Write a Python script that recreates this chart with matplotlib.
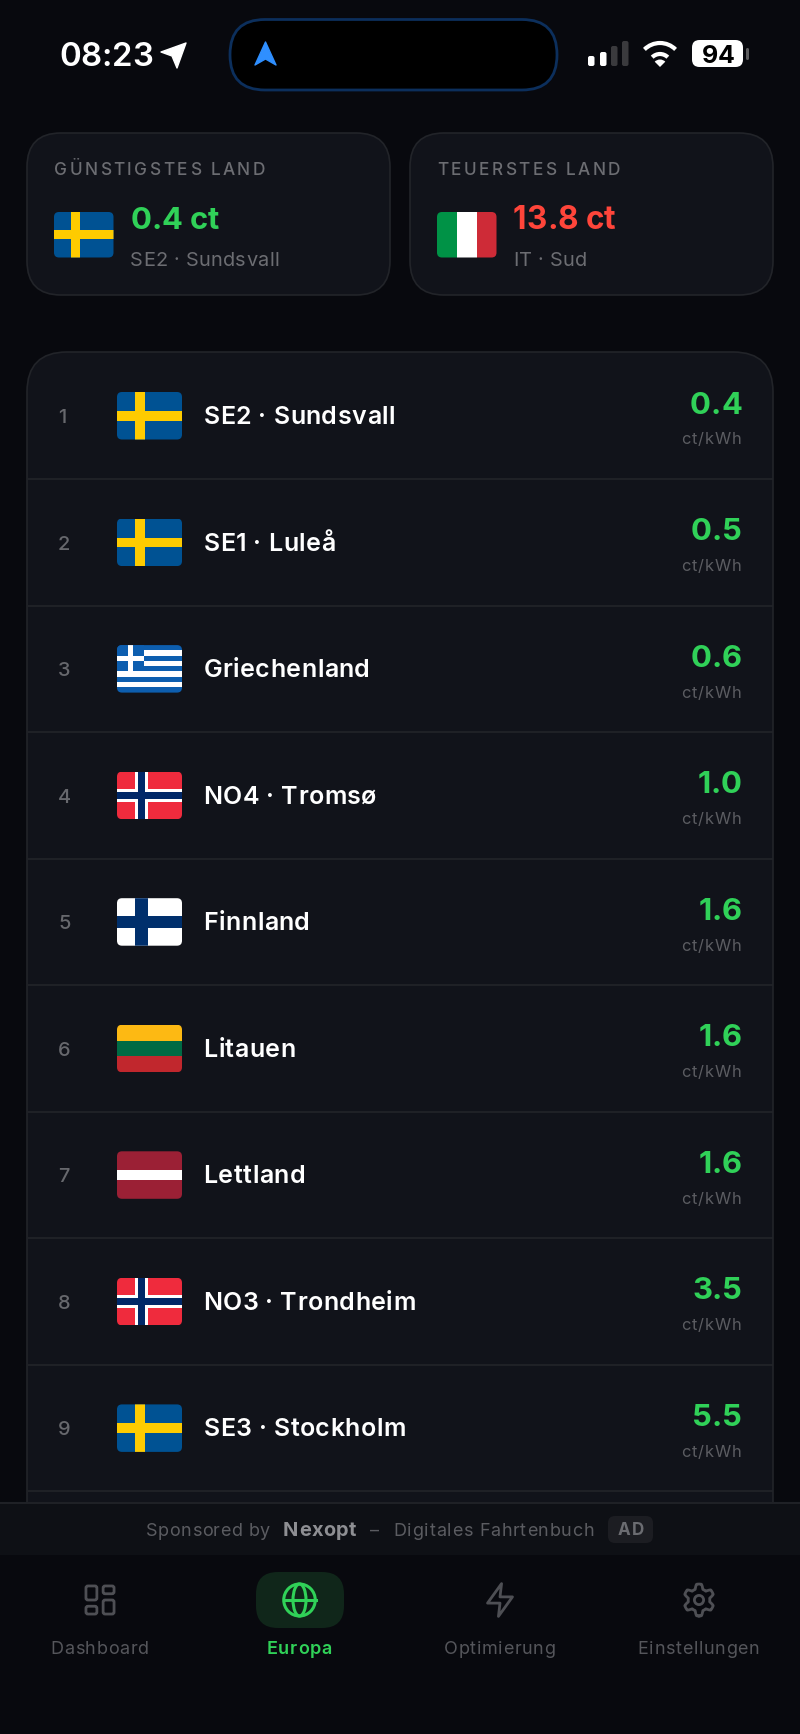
import numpy as np
import matplotlib
matplotlib.use("Agg")
import matplotlib.pyplot as plt
from matplotlib.patches import FancyBboxPatch, Rectangle, Polygon, Circle, Ellipse, Arc, Wedge
from matplotlib.text import Text
from matplotlib.transforms import IdentityTransform

# data
ranks = [1, 2, 3, 4, 5, 6, 7, 8, 9]
regions = ["SE2 · Sundsvall", "SE1 · Luleå", "Griechenland", "NO4 · Tromsø", "Finnland",
           "Litauen", "Lettland", "NO3 · Trondheim", "SE3 · Stockholm"]
prices = [0.4, 0.5, 0.6, 1.0, 1.6, 1.6, 1.6, 3.5, 5.5]
flags = ["se", "se", "gr", "no", "fi", "lt", "lv", "no", "se"]
unit = "ct/kWh"
nav_labels = ["Dashboard", "Europa", "Optimierung", "Einstellungen"]

BG = "#08090e"
CARD = "#11131a"
LINE = "#222429"
GREEN = "#30d158"
RED = "#ff453a"
GREY = "#6c6d72"
DIM = "#5b5c61"

plt.rcParams["font.family"] = ["Inter", "DejaVu Sans"]

fig = plt.figure(figsize=(8, 17.34), dpi=100, facecolor=BG)
ax = fig.add_axes([0, 0, 1, 1])
ax.set_xlim(0, 800)
ax.set_ylim(1734, 0)
ax.axis("off")


class TrackedText(Text):
    # matplotlib has no letter-spacing, so the glyphs are laid out one by one when drawing
    def __init__(self, *args, tracking=0, **kwargs):
        super().__init__(*args, **kwargs)
        self.tracking = tracking

    def draw(self, renderer):
        s = self.get_text()
        fp = self.get_fontproperties()
        px, py = self.get_transform().transform(self.get_position())

        def width(part):
            return renderer.get_text_width_height_descent(part, fp, False)[0]

        total = width(s) + self.tracking * (len(s) - 1)
        start = {"left": px, "center": px - total / 2, "right": px - total}[self.get_ha()]
        for i, ch in enumerate(s):
            x = start + width(s[:i]) + i * self.tracking if i else start
            t = Text(x, py, ch, color=self.get_color(), fontproperties=fp, va="baseline", transform=IdentityTransform())
            t.set_figure(self.get_figure())
            t.draw(renderer)


def txt(x, y, s, px, color, weight="normal", ha="left", z=5, track=0):
    t = TrackedText(x, y, s, tracking=track, fontsize=px * 0.72, color=color, fontweight=weight,
                    ha=ha, va="baseline", zorder=z, transform=ax.transData)
    ax.add_artist(t)
    return t


def rbox(x0, y0, x1, y1, r, fc, ec="none", lw=0, z=1):
    p = FancyBboxPatch((x0 + r, y0 + r), x1 - x0 - 2 * r, y1 - y0 - 2 * r,
                       boxstyle="round,pad=%f,rounding_size=%f" % (r, r),
                       fc=fc, ec=ec, lw=lw, zorder=z)
    ax.add_patch(p)
    return p


def flag(x, y, w, h, kind):
    clip = rbox(x, y, x + w, y + h, 5, "none", z=2)
    items = []

    def r(fx0, fy0, fx1, fy1, c):
        items.append(Rectangle((x + fx0 * w, y + fy0 * h), (fx1 - fx0) * w, (fy1 - fy0) * h, fc=c, ec="none", zorder=3))

    if kind == "se":
        r(0, 0, 1, 1, "#005293")
        r(0.28, 0, 0.43, 1, "#fecb00")
        r(0, 0.40, 1, 0.60, "#fecb00")
    elif kind == "it":
        r(0, 0, 1 / 3, 1, "#009246")
        r(1 / 3, 0, 2 / 3, 1, "#ffffff")
        r(2 / 3, 0, 1, 1, "#ce2b37")
    elif kind == "gr":
        r(0, 0, 1, 1, "#0d5eaf")
        for i in range(1, 9, 2):
            r(0, i / 9, 1, (i + 1) / 9, "#ffffff")
        r(0, 0, 0.41, 5 / 9, "#0d5eaf")
        r(0.165, 0, 0.245, 5 / 9, "#ffffff")
        r(0, 2 / 9, 0.41, 3 / 9, "#ffffff")
    elif kind == "no":
        r(0, 0, 1, 1, "#ef2b3d")
        r(0.28, 0, 0.47, 1, "#ffffff")
        r(0, 0.36, 1, 0.64, "#ffffff")
        r(0.325, 0, 0.425, 1, "#002868")
        r(0, 0.43, 1, 0.57, "#002868")
    elif kind == "fi":
        r(0, 0, 1, 1, "#ffffff")
        r(0.27, 0, 0.47, 1, "#002f6c")
        r(0, 0.37, 1, 0.63, "#002f6c")
    elif kind == "lt":
        r(0, 0, 1, 1 / 3, "#fdb913")
        r(0, 1 / 3, 1, 2 / 3, "#006a44")
        r(0, 2 / 3, 1, 1, "#c1272d")
    elif kind == "lv":
        r(0, 0, 1, 1, "#9b2035")
        r(0, 0.40, 1, 0.60, "#ffffff")
    for it in items:
        ax.add_patch(it)
        it.set_clip_path(clip)


# ---- summary cards
rbox(27, 133, 390, 295, 34, CARD, LINE, 1.2)
rbox(410, 133, 773, 295, 34, CARD, LINE, 1.2)
txt(54, 175, "GÜNSTIGSTES LAND", 17.2, GREY, "medium", track=2.45)
txt(437, 175, "TEUERSTES LAND", 17.2, GREY, "medium", track=2.45)
flag(54, 212, 59.5, 45.5, "se")
flag(437, 212, 59.5, 45.5, "it")
txt(130.5, 229, "%.1f ct" % prices[0], 31, GREEN, "bold")
txt(513, 229, "13.8 ct", 31.5, RED, "bold")
txt(130, 266.5, regions[0], 20, GREY, track=0.3)
txt(513, 266.5, "IT · Sud", 20, GREY, track=0.3)

# ---- ranking list
rbox(27, 352, 773, 1600, 40, CARD, LINE, 1.2, z=1)
row_h = 126.55
for i, (n, name, val, fl) in enumerate(zip(ranks, regions, prices, flags)):
    c = 415.5 + i * row_h
    txt(58, c + 7.5, str(n), 20, "#67686d", "medium")
    flag(117, c - 23.5, 65, 47.5, fl)
    txt(203.5, c + 8.5, name, 25, "#ffffff", "semibold", track=0.43)
    txt(742, c - 2, "%.1f" % val, 31, GREEN, "bold", ha="right")
    txt(741.5, c + 29, unit, 16.5, DIM, ha="right", track=0.85)
    y = 352 + 127 + i * row_h
    ax.plot([27.5, 772.5], [y, y], color=LINE, lw=1.2, zorder=2, solid_capstyle="butt")

# ---- sponsor strip + nav
ax.add_patch(Rectangle((0, 1502), 800, 53, fc="#0e1015", ec="none", zorder=6))
ax.plot([0, 800], [1502.5, 1502.5], color="#1f2126", lw=1.5, zorder=7)
ax.add_patch(Rectangle((0, 1555), 800, 179, fc=BG, ec="none", zorder=6))
txt(146, 1536, "Sponsored by", 18, DIM, z=8, track=0.5)
txt(283, 1536, "Nexopt", 20, "#8e8f93", "bold", z=8, track=0.5)
txt(370, 1536, "–", 18, DIM, z=8)
txt(393.5, 1536, "Digitales Fahrtenbuch", 18, DIM, z=8, track=0.72)
rbox(608, 1516, 653, 1543, 7, "#1c1d22", z=7)
txt(630.5, 1535, "AD", 17, "#6b6c71", "bold", ha="center", z=8, track=1.5)

nav_x = [100, 299.5, 500, 699]
rbox(256, 1572, 344, 1628, 22, "#10261a", z=7)
for x, lab in zip(nav_x, nav_labels):
    active = lab == "Europa"
    txt(x - 0.5, 1654, lab, 18, GREEN if active else "#55565b", "semibold" if active else "normal", ha="center", z=8, track=0.65)

# nav icons (24 unit icon grid, scaled)
ICON = "#4e4f54"
s = 1.56
y0 = 1600


def to_px(cx, pts):
    return [(cx + (a - 12) * s, y0 + (b - 12) * s) for a, b in pts]


cx = nav_x[0]
for a, b, w, h in [(3, 3, 7, 9), (14, 3, 7, 5), (14, 12, 7, 9), (3, 16, 7, 5)]:
    rbox(cx + (a - 12) * s, y0 + (b - 12) * s, cx + (a + w - 12) * s, y0 + (b + h - 12) * s, 2, "none", ICON, 2.0, z=8)

cx = nav_x[1]
ax.add_patch(Ellipse((cx, y0), 31.5, 32, fc="none", ec=GREEN, lw=2.2, zorder=8))
ax.add_patch(Ellipse((cx, y0), 13, 32, fc="none", ec=GREEN, lw=2.2, zorder=8))
ax.plot([cx - 16, cx + 16], [y0, y0], color=GREEN, lw=2.2, zorder=8)

cx = nav_x[2]
zap = [(13, 1.5), (4, 14), (12, 14), (11, 22.5), (20, 10), (12, 10)]
ax.add_patch(Polygon(to_px(cx, zap), closed=True, fc="none", ec=ICON, lw=2.0, joinstyle="round", zorder=8))

cx = nav_x[3]
th = np.linspace(0, 2 * np.pi, 361)
rad = 13 + 2.2 * np.clip(np.cos(6 * th) * 1.8, -1, 1)
ax.plot(cx + rad * np.sin(th), y0 + rad * np.cos(th) * 1.05, color=ICON, lw=2.0, zorder=8)
ax.add_patch(Circle((cx, y0), 4.6, fc="none", ec=ICON, lw=2.0, zorder=8))

# ---- status bar
txt(59, 66, "08:23", 33, "#ffffff", "semibold")
ax.add_patch(Polygon([(161, 52), (186, 43), (177, 68), (172, 56)], closed=True, fc="#ffffff", ec="#ffffff", lw=1, joinstyle="round", zorder=5))
rbox(230, 19.5, 557, 90, 35, "#000000", "#0c2f5c", 2.0)
ax.add_patch(Polygon([(265.5, 42), (276, 65), (265.5, 59), (255, 65)], closed=True, fc="#2f8fff", ec="#2f8fff", lw=1, joinstyle="round", zorder=5))

for bx, top, col in [(588, 56, "#ffffff"), (600, 52, "#ffffff"), (611, 46, "#3a3a3d"), (622, 41, "#3a3a3d")]:
    rbox(bx, top, bx + 6.5, 66, 2, col, z=5)
wx, wy = 660, 65
for rw in [11, 22]:
    ax.add_patch(Arc((wx, wy), 2 * rw, 2 * rw, theta1=225, theta2=315, ec="#ffffff", lw=3.0, zorder=5))
ax.add_patch(Wedge((wx, wy + 2), 7.5, 225, 315, fc="#ffffff", ec="none", zorder=5))
rbox(692, 40, 743, 67, 7.5, "#ffffff", z=5)
txt(718, 63, "94", 25, "#000000", "bold", ha="center", z=6)
rbox(746, 48, 749, 60, 1.5, "#5e5e60", z=5)

fig.savefig("out.png", dpi=100, facecolor=BG)
